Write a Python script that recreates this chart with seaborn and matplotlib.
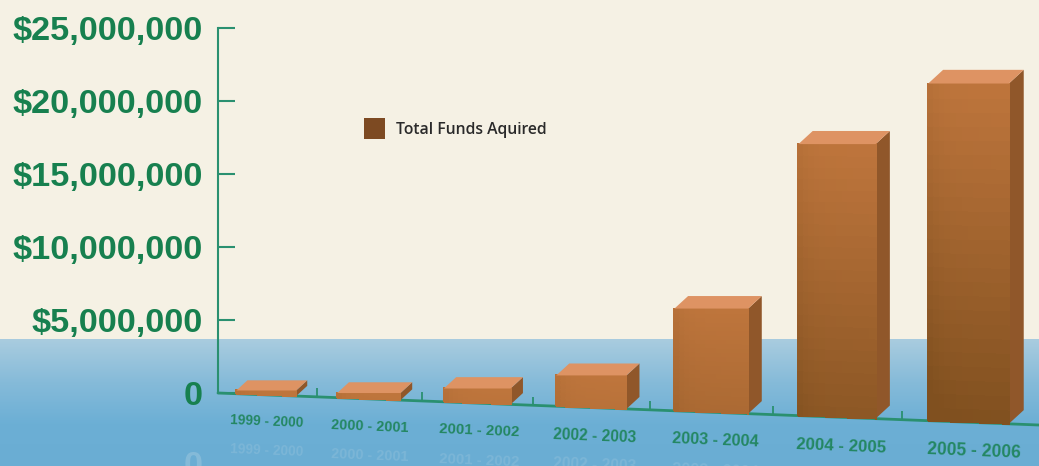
import numpy as np
import matplotlib
matplotlib.use("Agg")
import matplotlib.pyplot as plt
import seaborn as sns
from matplotlib.colors import LinearSegmentedColormap
from matplotlib.patches import Patch, Polygon
from matplotlib.transforms import Affine2D, IdentityTransform

years = ["1999 - 2000", "2000 - 2001", "2001 - 2002", "2002 - 2003",
         "2003 - 2004", "2004 - 2005", "2005 - 2006"]
funds = [300000, 400000, 1000000, 2200000, 7100000, 18700000, 23200000]
y_ticks = [0, 5000000, 10000000, 15000000, 20000000, 25000000]
y_labels = ["0", "$5,000,000", "$10,000,000", "$15,000,000", "$20,000,000", "$25,000,000"]
legend_label = "Total Funds Aquired"

CREAM = "#F5F1E4"
GREEN = "#17804F"
AXIS_GREEN = "#2A9070"
W, H = 1039, 466

sns.set_theme(style="white")
plt.rcParams["font.family"] = ["Liberation Sans", "DejaVu Sans"]

fig = plt.figure(figsize=(W / 100, H / 100), dpi=100, facecolor=CREAM)

# backdrop: cream page with a blue band along the bottom
bg = fig.add_axes([0, 0, 1, 1], zorder=0)
band = LinearSegmentedColormap.from_list("band", ["#A9CCDF", "#86BBD9", "#6CAFD5", "#6AADD3"])
bg.imshow(np.linspace(0, 1, 128).reshape(-1, 1), cmap=band, aspect="auto",
          extent=[0, 1, 0, (H - 340) / H])
bg.set_xlim(0, 1)
bg.set_ylim(0, 1)
bg.axis("off")

# value axis: 73 px per 5M, zero sits 73 px above the bottom edge
ax = fig.add_axes([218 / W, 0, (W - 218) / W, 1], zorder=1)
ax.patch.set_alpha(0)

sns.barplot(x=years, y=funds, width=0.6, color="#B5733D", saturation=1, ax=ax)


# bars spread out to the right, as in the perspective of the original
def spread(x):
    return 99.7 * np.asarray(x) + 2.89 * np.asarray(x) ** 2


def unspread(p):
    return (-99.7 + np.sqrt(np.maximum(99.7 ** 2 + 4 * 2.89 * np.asarray(p), 0))) / (2 * 2.89)


ax.set_xscale("function", functions=(spread, unspread))
xlim = (unspread(-48), unspread(773))
ylim = (-5000000, 393 / 73 * 5000000)
ax.set_xlim(*xlim)
ax.set_ylim(*ylim)

# floor slopes down to the right
sloped = ax.transData + Affine2D().translate(-218, -73).skew(0, np.arctan(-0.039)).translate(218, 73)

# pixel-space layer for the box faces
faces = fig.add_axes([0, 0, 1, 1], zorder=2)
faces.set_xlim(0, W)
faces.set_ylim(0, H)
faces.axis("off")

front = LinearSegmentedColormap.from_list("front", ["#BE753C", "#80501F"])
for bar, value in zip(ax.patches, funds):
    left, width = bar.get_x(), bar.get_width()
    bl, br = sloped.transform([(left, 0), (left + width, 0)])
    top_y = sloped.transform([(left + width / 2, value)])[0][1]  # tops stay level
    tl, tr = np.array([bl[0], top_y]), np.array([br[0], top_y])

    # the flat bar sits just under the shaded face
    slack = 0.039 * (br[0] - bl[0]) / 2 * 5000000 / 73
    bar.set_height(max(value - slack, 0))
    bar.set_transform(sloped)

    n_x, n_y = 14, 24
    t_x = np.linspace(0, 1, n_x + 1)
    t_y = np.linspace(0, 1, n_y + 1)
    floor = bl[1] + (br[1] - bl[1]) * t_x
    mesh_x = np.tile(bl[0] + (br[0] - bl[0]) * t_x, (n_y + 1, 1))
    mesh_y = floor + np.outer(t_y, top_y - floor)
    u = (t_x[:-1] + t_x[1:]) / 2
    v = (t_y[:-1] + t_y[1:]) / 2
    shade = np.outer((1 - v) * value / max(funds), np.ones_like(u)) + 0.14 * np.exp(-u * 6)
    faces.pcolormesh(mesh_x, mesh_y, shade, cmap=front, vmin=0, vmax=1,
                     zorder=3, edgecolor="face", linewidth=0.2)

    # box depth in pixels, worked out from the drawn front face
    off = np.array([0.185, 0.17]) * (br[0] - bl[0])
    faces.add_patch(Polygon([br, br + off, tr + off, tr], closed=True, facecolor="#90572A",
                            edgecolor="none", zorder=2.5))
    faces.add_patch(Polygon([tl, tr, tr + off, tl + off], closed=True, facecolor="#DE9363",
                            edgecolor="none", zorder=3.5))

faces.set_xlim(0, W)
faces.set_ylim(0, H)

# axis styling
for side in ["top", "right", "bottom"]:
    ax.spines[side].set_visible(False)
ax.spines["left"].set_color(AXIS_GREEN)
ax.spines["left"].set_linewidth(1.5)
ax.spines["left"].set_bounds(0, 25000000)
ax.set_yticks(y_ticks)
ax.set_yticklabels(y_labels, fontsize=24.7, fontweight="bold", color=GREEN)
ax.tick_params(axis="y", direction="in", length=12, width=1.5, color=AXIS_GREEN, pad=11, left=True)
ax.set_xticks([])
ax.set_xticks([], minor=True)

ax.plot(xlim, [0, 0], color=AXIS_GREEN, lw=2, transform=sloped, zorder=2, clip_on=False)
tick_pos = np.arange(len(years) - 1) + 0.5
ax.vlines(tick_pos, 0, 600000, color=AXIS_GREEN, lw=1.3, transform=sloped, zorder=1.5)
ax.set_xlim(*xlim)
ax.set_ylim(*ylim)

# year labels grow with the bars and tilt with the floor
for i, year in enumerate(years):
    px_width = spread(i + 0.31) - spread(i - 0.31)
    size = px_width * 0.1275 + 2
    ax.annotate(year, xy=(i, 0), xycoords=sloped, xytext=(0.5 + 0.6 * i, -19.5 - 0.25 * i),
                textcoords="offset points", ha="center", va="center", rotation=-2.3,
                fontsize=size, fontweight="bold", color=GREEN, alpha=0.85, zorder=5,
                annotation_clip=False)
    # faint reflection below the label
    ax.annotate(year, xy=(i, 0), xycoords=sloped, xytext=(0.5 + 0.6 * i, -40 - 0.6 * i),
                textcoords="offset points", ha="center", va="center", rotation=-2.3,
                fontsize=size, fontweight="bold", color="#A5CBE0", alpha=0.3, zorder=1,
                annotation_clip=False)
ax.annotate("0", xy=(0, 0), xycoords=("axes fraction", "data"), xytext=(-11, -53),
            textcoords="offset points", ha="right", va="center", fontsize=24.7, fontweight="bold",
            color="#A5CBE0", alpha=0.45, annotation_clip=False)

handle = Patch(facecolor="#7D4A22", edgecolor="none", label=legend_label)
ax.legend(handles=[handle], loc="center left", frameon=False, bbox_transform=IdentityTransform(),
          bbox_to_anchor=(356, H - 128.5), handlelength=1.34, handleheight=1.67, handletextpad=0.7,
          prop={"family": "Open Sans", "size": 11.3, "weight": "semibold"}, labelcolor="#2A2A2A",
          borderpad=0, borderaxespad=0.5)

fig.savefig("out.png", dpi=100, facecolor=CREAM)
